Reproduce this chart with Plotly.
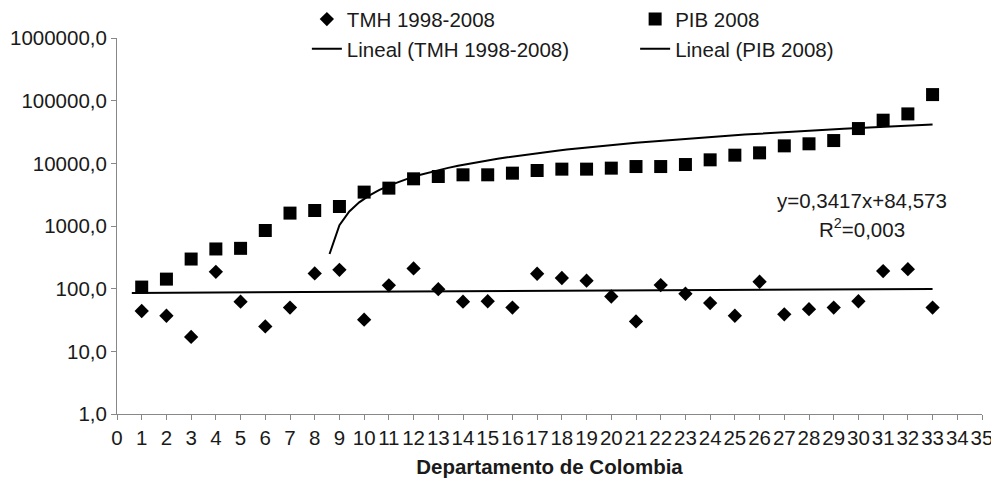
import numpy as np
import plotly.graph_objects as go

# ---- data ----
departamento = list(range(1, 34))
tmh_1998_2008 = [44, 37, 17, 186, 62, 25, 50, 175, 200, 32, 113, 210, 98, 62, 63, 50,
                 173, 148, 134, 75, 30, 114, 83, 59, 37, 129, 39, 47, 50, 63, 191, 205, 50]
pib_2008 = [106, 142, 297, 430, 440, 848, 1606, 1767, 2048, 3474, 4020, 5660, 6160, 6560,
            6560, 6970, 7680, 8080, 8080, 8380, 8890, 8890, 9570, 11370, 13500, 14700,
            19000, 20500, 23100, 35900, 48800, 61500, 125000]
y_tickvals = [1, 10, 100, 1000, 10000, 100000, 1000000]
y_ticktext = ["1,0", "10,0", "100,0", "1000,0", "10000,0", "100000,0", "1000000,0"]
x_tickvals = list(range(0, 36))
equation_text = "y=0,3417x+84,573"
r2_text = "R<sup>2</sup>=0,003"

FONT = "Liberation Sans, Arial, sans-serif"
TXT = "#1a1a1a"
FS = 20.5

# linear trend lines (as Excel "Lineal")
x = np.array(departamento, dtype=float)
st, it = np.polyfit(x, np.array(tmh_1998_2008, dtype=float), 1)
sp, ip = np.polyfit(x, np.array(pib_2008, dtype=float), 1)
xt = np.linspace(0.6, 33, 82)
trend_tmh = st * xt + it
trend_pib = sp * xt + ip
trend_pib = [v if v > 0 else None for v in trend_pib]

fig = go.Figure()
fig.add_trace(go.Scatter(x=departamento, y=tmh_1998_2008, mode="markers", name="TMH 1998-2008",
                         marker=dict(symbol="diamond", size=11, color="black"), legend="legend"))
fig.add_trace(go.Scatter(x=xt, y=trend_tmh, mode="lines", name="Lineal (TMH 1998-2008)",
                         line=dict(color="black", width=2), legend="legend"))
fig.add_trace(go.Scatter(x=departamento, y=pib_2008, mode="markers", name="PIB 2008",
                         marker=dict(symbol="square", size=13, color="black"), legend="legend2"))
fig.add_trace(go.Scatter(x=xt, y=trend_pib, mode="lines", name="Lineal (PIB 2008)",
                         line=dict(color="black", width=2), legend="legend2", connectgaps=False))

fig.add_annotation(x=0.8615, y=0.569, xref="paper", yref="paper", text=equation_text,
                   xanchor="center", yanchor="middle",
                   showarrow=False, font=dict(size=FS, color=TXT, family=FONT))
fig.add_annotation(x=0.8615, y=0.495, xref="paper", yref="paper", text=r2_text,
                   xanchor="center", yanchor="middle",
                   showarrow=False, font=dict(size=FS, color=TXT, family=FONT))

fig.update_layout(
    width=991, height=478,
    margin=dict(l=117, r=9, t=38, b=64, autoexpand=False),
    paper_bgcolor="white", plot_bgcolor="white",
    font=dict(family=FONT, size=FS, color=TXT),
    showlegend=True,
    legend=dict(x=0.2195, y=1.103, xanchor="left", yanchor="top", orientation="v",
                font=dict(size=FS, color=TXT), bgcolor="rgba(0,0,0,0)", tracegroupgap=0),
    legend2=dict(x=0.599, y=1.103, xanchor="left", yanchor="top", orientation="v",
                 font=dict(size=FS, color=TXT), bgcolor="rgba(0,0,0,0)", tracegroupgap=0),
    xaxis=dict(range=[0, 35], tickvals=x_tickvals, showgrid=False, zeroline=False,
               showline=True, linecolor="#888", linewidth=1, ticks="outside", ticklen=5,
               tickcolor="#888", tickfont=dict(size=FS, color=TXT), automargin=False,
               ticklabeloverflow="allow", tickangle=0,
               title=dict(text="<b>Departamento de Colombia</b>", font=dict(size=FS, color=TXT),
                          standoff=12)),
    yaxis=dict(type="log", range=[0, 6], tickvals=y_tickvals, ticktext=y_ticktext,
               showgrid=False, zeroline=False, showline=True, linecolor="#888", linewidth=1,
               ticks="outside", ticklen=5, tickcolor="#888", automargin=False,
               tickfont=dict(size=FS, color=TXT)),
)

fig.write_html("out.html", config={"displayModeBar": False},
               post_script="document.body.style.margin='0';document.body.style.overflow='hidden';")
